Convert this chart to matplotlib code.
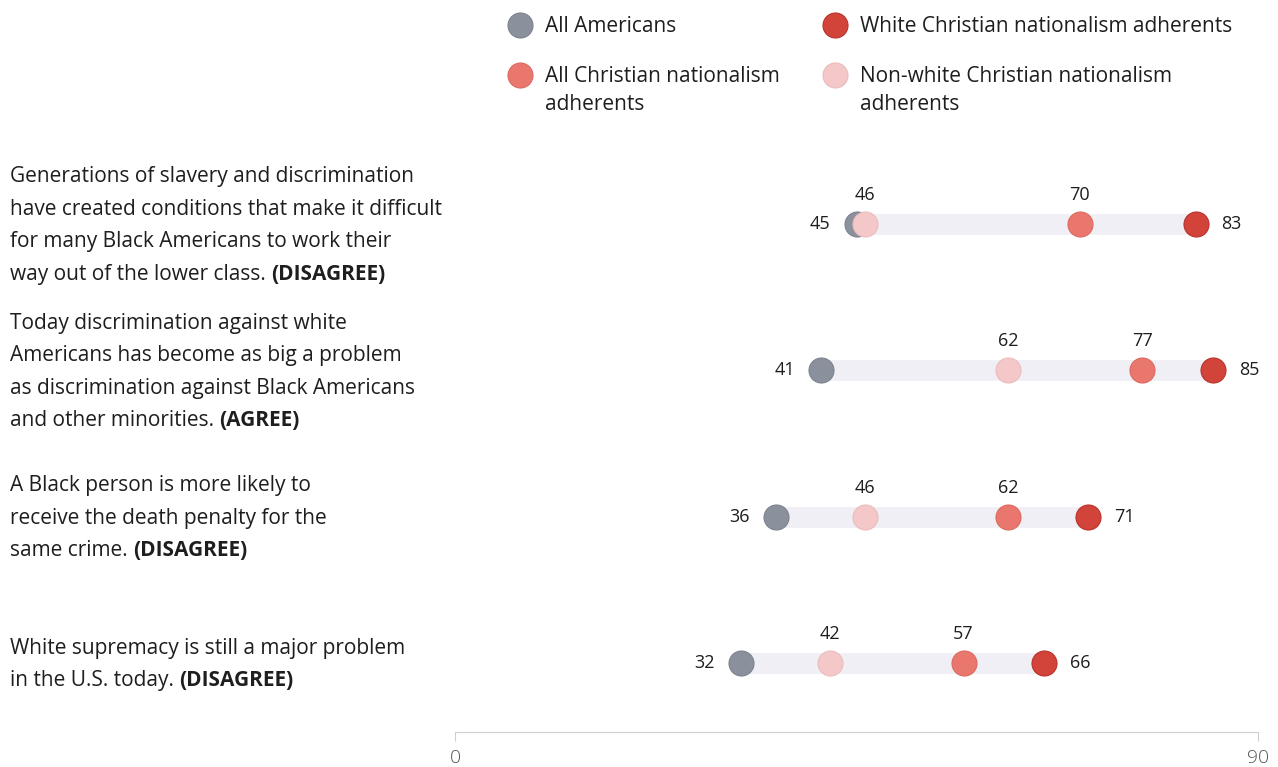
import numpy as np
import matplotlib
matplotlib.use('Agg')
import matplotlib.pyplot as plt
from matplotlib.transforms import blended_transform_factory, offset_copy
from matplotlib.lines import Line2D

plt.rcParams['font.family'] = ['Open Sans', 'DejaVu Sans']

# Data
questions = [
    (["Generations of slavery and discrimination",
      "have created conditions that make it difficult",
      "for many Black Americans to work their",
      "way out of the lower class. "], "(DISAGREE)"),
    (["Today discrimination against white",
      "Americans has become as big a problem",
      "as discrimination against Black Americans",
      "and other minorities. "], "(AGREE)"),
    (["A Black person is more likely to",
      "receive the death penalty for the",
      "same crime. "], "(DISAGREE)"),
    (["White supremacy is still a major problem",
      "in the U.S. today. "], "(DISAGREE)"),
]
series_names = [["All Americans"],
                ["All Christian nationalism", "adherents"],
                ["White Christian nationalism adherents"],
                ["Non-white Christian nationalism", "adherents"]]
all_americans = [45, 41, 36, 32]
all_cn = [70, 77, 62, 57]
white_cn = [83, 85, 71, 66]
nonwhite_cn = [46, 62, 46, 42]

colors = ['#8a909c', '#e9776d', '#d2433a', '#f4c8c8']
edges = ['#7c828e', '#dc6a60', '#b8322b', '#ecbcbc']
txt = '#1e1e1e'

fig = plt.figure(figsize=(12.78, 7.67), dpi=100)
W, H = 1278, 767
ax = fig.add_axes([455 / W, (H - 732) / H, 803 / W, 592 / H])
ax.set_xlim(0, 90)
ax.set_ylim(3.472, -0.574)

series = [all_americans, all_cn, white_cn, nonwhite_cn]
draw_order = [0, 3, 1, 2]
rows = np.arange(len(questions))

for i in rows:
    vals = [s[i] for s in series]
    lo, hi = min(vals), max(vals)
    ax.plot([lo, hi], [i, i], color='#efeff5', linewidth=15,
            solid_capstyle='butt', zorder=1)
    for k in draw_order:
        ax.scatter(series[k][i], i, s=324, color=colors[k], edgecolor=edges[k],
                   linewidth=0.8, zorder=3)
    for k in range(4):
        v = series[k][i]
        if v == lo:
            tr = offset_copy(ax.transData, fig=fig, x=-26, y=0, units='dots')
            ax.text(v, i, str(v), transform=tr, ha='right', va='center',
                    fontsize=13, color=txt)
        elif v == hi:
            tr = offset_copy(ax.transData, fig=fig, x=26, y=0, units='dots')
            ax.text(v, i, str(v), transform=tr, ha='left', va='center',
                    fontsize=13, color=txt)
        else:
            tr = offset_copy(ax.transData, fig=fig, x=0, y=29, units='dots')
            ax.text(v, i, str(v), transform=tr, ha='center', va='center',
                    fontsize=13, color=txt)

# question labels, last line partly bold
renderer = fig.canvas.get_renderer()
blend = blended_transform_factory(fig.transFigure, ax.transData)
line_h = 32.5
for i, (lines, bold) in enumerate(questions):
    n = len(lines)
    for j, line in enumerate(lines):
        dy = ((n - 1) / 2 - j) * line_h - 7
        tr = offset_copy(blend, fig=fig, x=0, y=dy, units='dots')
        t = ax.text(10 / W, i, line, transform=tr, ha='left', va='baseline',
                    fontsize=15, color=txt)
        if j == n - 1:
            bb = t.get_window_extent(renderer=renderer)
            tr2 = offset_copy(blend, fig=fig, x=0, y=dy, units='dots')
            ax.text(bb.x1 / W, i, bold, transform=tr2, ha='left', va='baseline',
                    fontsize=15, fontweight='bold', color=txt)

# legend
leg_pos = [(520, 25), (520, 75), (835, 25), (835, 75)]
for k, (px, py) in enumerate(leg_pos):
    fig.add_artist(Line2D([px / W], [1 - py / H], marker='o', markersize=18,
                          color=colors[k], markeredgecolor=edges[k],
                          markeredgewidth=0.8, linestyle='none'))
    for j, part in enumerate(series_names[k]):
        fig.text((px + 25) / W, 1 - (py + 1 + 28 * j) / H, part, ha='left',
                 va='center', fontsize=15, color=txt)

# axis
for side in ['top', 'right', 'left']:
    ax.spines[side].set_visible(False)
ax.spines['bottom'].set_color('#cfcfcf')
ax.set_yticks([])
ax.set_xticks([0, 90])
ax.tick_params(axis='x', colors='#cfcfcf', length=6.5, labelcolor='#555555',
               labelsize=14, pad=6)
for lab in ax.get_xticklabels():
    lab.set_fontweight('light')

fig.savefig('out.png', dpi=100)
